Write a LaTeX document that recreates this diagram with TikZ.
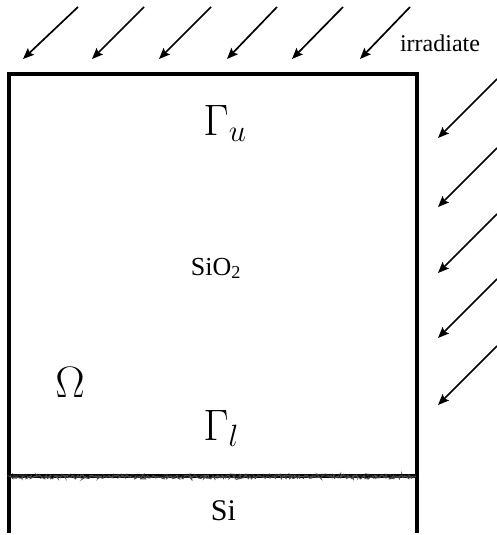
\RequirePackage{fix-cm}
\documentclass[tikz,border=0pt]{standalone}
\usepackage{fontspec}
\setmainfont{Liberation Serif}
\usetikzlibrary{arrows.meta,decorations.pathmorphing}
\begin{document}
\begin{tikzpicture}[x=1pt,y=-1pt,
  ray/.style={line width=1.7pt,-{Stealth[length=11pt,width=9pt,inset=2pt]}},
  wall/.style={line width=3.8pt},
  lbl/.style={inner sep=0pt,anchor=base},
  big/.style={lbl,font=\fontsize{44}{48}\selectfont},
  rough/.style={line width=0.9pt,decoration={random steps,segment length=1.3pt,amplitude=2pt},decorate},
]
\useasboundingbox (0,0) rectangle (497,535);
% box
\coordinate (bl) at (9,533);
\coordinate (tl) at (9,74);
\coordinate (tr) at (417,74);
\coordinate (br) at (417,533);
\draw[wall] (bl) -- (tl) -- (tr) -- (br);
% interface
\coordinate (il) at (10,476);
\coordinate (ir) at (416,476);
\draw[line width=4.6pt,black] (il) -- (ir);
\draw[rough,black!85] (il) -- (ir);
\draw[rough,black!70] (10,477) -- (416,477);
% labels
\node[big] (gu) at (225,135) {$\Gamma_u$};
\node[big] (gl) at (221,440) {$\Gamma_l$};
\node[big] (om) at (70,397) {$\Omega$};
\node[lbl,font=\fontsize{26}{30}\selectfont] (sio) at (216,275) {SiO\textsubscript{2}};
\node[lbl,font=\fontsize{30}{34}\selectfont] (si) at (223.5,520) {Si};
\node[lbl,font=\fontsize{24}{28}\selectfont] (irr) at (440,52) {irradiate};
% top rays
\foreach \i/\sx/\ex in {1/78/23,2/144/92,3/211/159,4/277/227,5/343/292,6/410/360}{
  \coordinate (ts\i) at (\sx,7);
  \coordinate (te\i) at (\ex,59);
  \draw[ray] (ts\i) -- (te\i);
}
% side rays
\foreach \i/\ty in {1/138,2/207,3/273,4/338,5/405}{
  \coordinate (ss\i) at (497,\ty-59);
  \coordinate (se\i) at (438,\ty);
  \draw[ray] (ss\i) -- (se\i);
}
\end{tikzpicture}
\end{document}
